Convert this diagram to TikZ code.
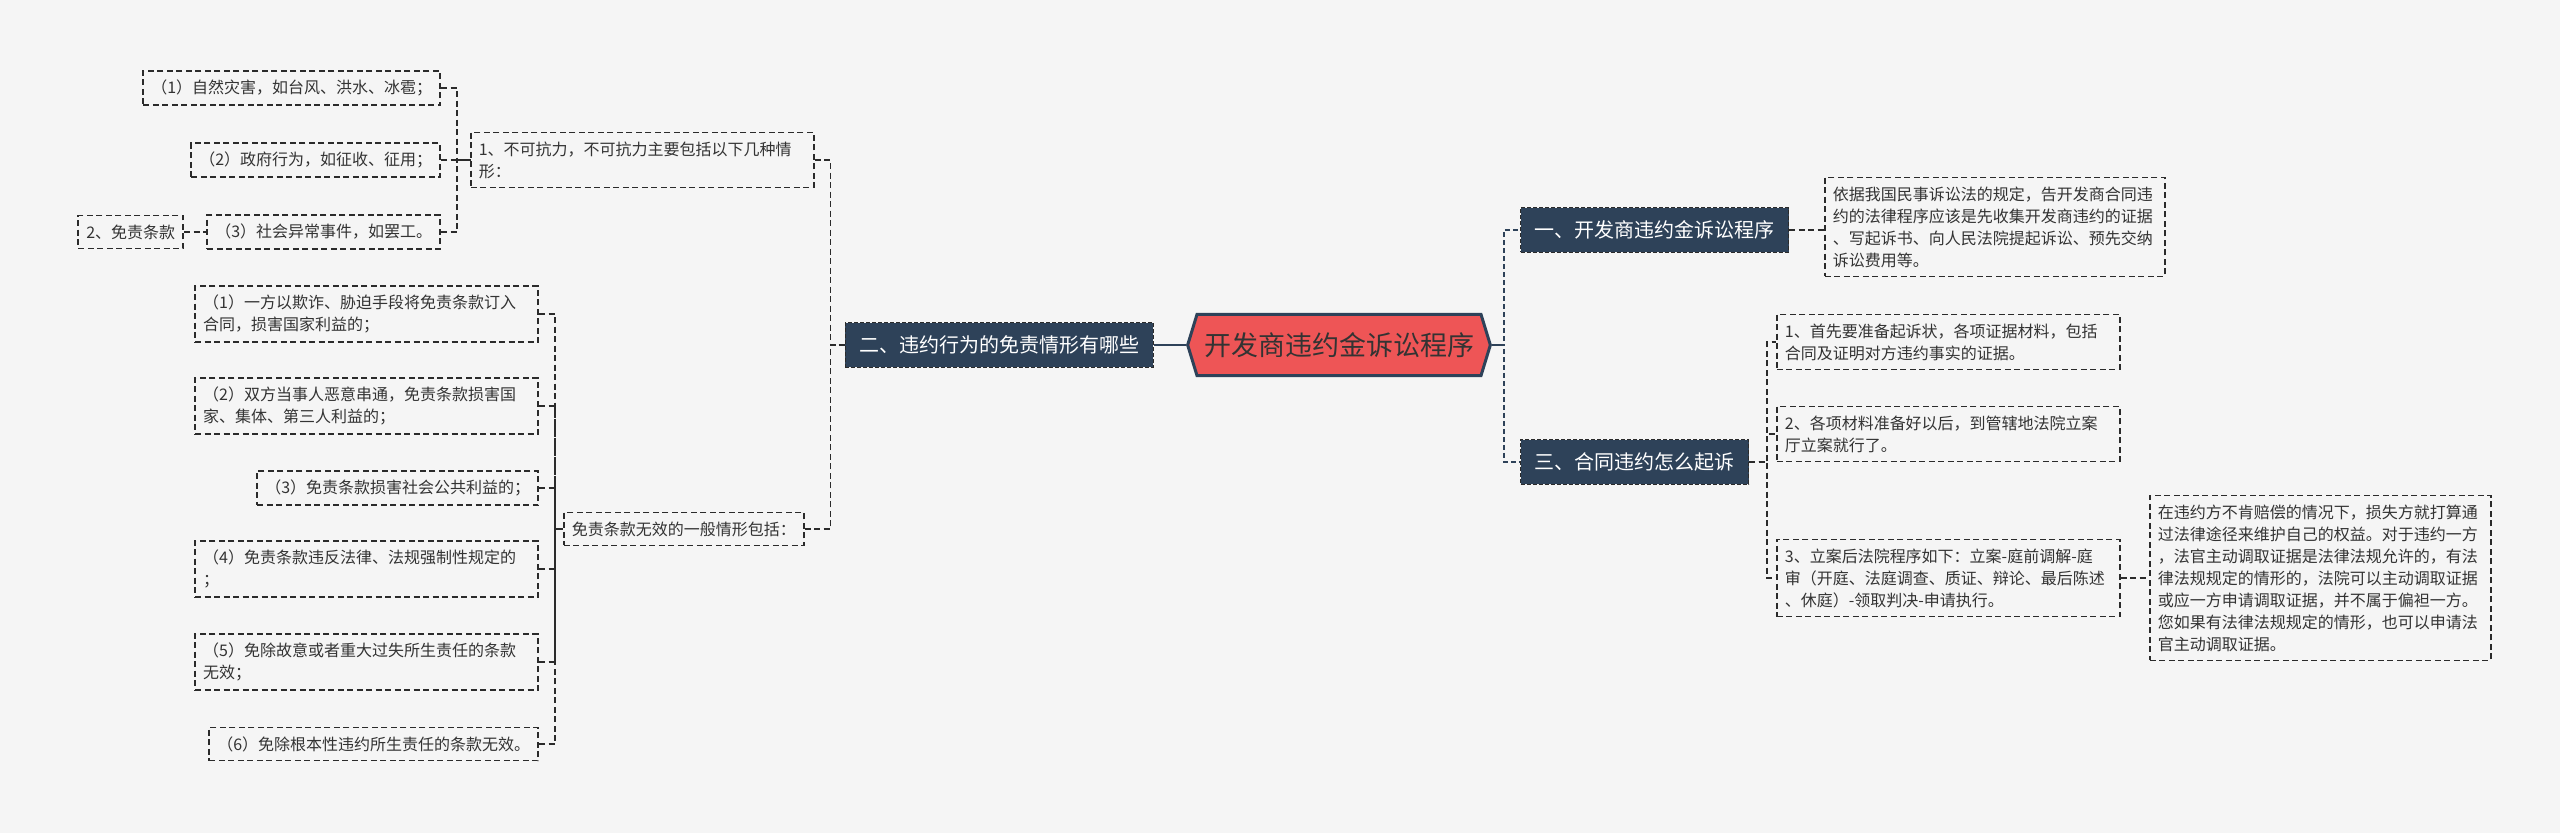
\documentclass[tikz,border=0pt]{standalone}
\usepackage{fontspec}
\setmainfont{Noto Sans CJK SC}
\usetikzlibrary{shapes.symbols}
\definecolor{bgc}{HTML}{F5F5F5}
\definecolor{linec}{HTML}{2B2B2B}
\definecolor{textc}{HTML}{333333}
\definecolor{catc}{HTML}{2E4259}
\definecolor{rootc}{HTML}{EE5556}

\begin{document}
\begin{tikzpicture}[x=1pt,y=-1pt,
  link/.style={draw=linec,line width=1.7pt,dash pattern=on 6pt off 3.5pt},
  mainlink/.style={draw=catc,line width=2.6pt,dash pattern=on 5pt off 3pt},
  leaf/.style={link,text=textc,font=\fontsize{16}{22}\selectfont,align=left,inner xsep=8pt,inner ysep=9pt},
  cat/.style={draw=linec,line width=1pt,dash pattern=on 4pt off 2pt,fill=catc,text=white,font=\fontsize{20}{24}\selectfont,inner xsep=14pt,inner ysep=13pt},
  rootnode/.style={signal,signal to=west and east,signal pointer angle=146,draw=catc,line width=3pt,fill=rootc,text=textc,font=\fontsize{27}{30}\selectfont,inner xsep=7pt,inner ysep=18pt}]
\fill[bgc] (0,0) rectangle (2560,833);

% centre and main branches
\node[rootnode] (root) at (1339,345) {开发商违约金诉讼程序};
\node[cat] (cat2) at (999,345) {二、违约行为的免责情形有哪些};
\node[cat,anchor=west] (cat1) at (1520,230) {一、开发商违约金诉讼程序};
\node[cat,anchor=west] (cat3) at (1520,462) {三、合同违约怎么起诉};

% left part
\node[leaf,text width=327pt,anchor=west] (buke) at (470,160) {1、不可抗力，不可抗力主要包括以下几种情\\形：};
\node[leaf,anchor=east] (zaihai) at (441,88) {（1）自然灾害，如台风、洪水、冰雹；};
\node[leaf,anchor=east] (zhengfu) at (441,160) {（2）政府行为，如征收、征用；};
\node[leaf,anchor=east] (bagong) at (441,232) {（3）社会异常事件，如罢工。};
\node[leaf,anchor=east] (tiaokuan) at (184,232) {2、免责条款};
\node[leaf,anchor=west] (wuxiao) at (563,529) {免责条款无效的一般情形包括：};
\node[leaf,text width=327pt,anchor=east] (wx1) at (539,314) {（1）一方以欺诈、胁迫手段将免责条款订入\\合同，损害国家利益的；};
\node[leaf,text width=327pt,anchor=east] (wx2) at (539,406) {（2）双方当事人恶意串通，免责条款损害国\\家、集体、第三人利益的；};
\node[leaf,anchor=east] (wx3) at (539,488) {（3）免责条款损害社会公共利益的；};
\node[leaf,text width=327pt,anchor=east] (wx4) at (539,569) {（4）免责条款违反法律、法规强制性规定的\\；};
\node[leaf,text width=327pt,anchor=east] (wx5) at (539,662) {（5）免除故意或者重大过失所生责任的条款\\无效；};
\node[leaf,anchor=east] (wx6) at (539,744) {（6）免除根本性违约所生责任的条款无效。};

% right part
\node[leaf,text width=324pt,anchor=west] (yiju) at (1824,227) {依据我国民事诉讼法的规定，告开发商合同违\\约的法律程序应该是先收集开发商违约的证据\\、写起诉书、向人民法院提起诉讼、预先交纳\\诉讼费用等。};
\node[leaf,text width=327pt,anchor=west] (step1) at (1776,342) {1、首先要准备起诉状，各项证据材料，包括\\合同及证明对方违约事实的证据。};
\node[leaf,text width=327pt,anchor=west] (step2) at (1776,434) {2、各项材料准备好以后，到管辖地法院立案\\厅立案就行了。};
\node[leaf,text width=327pt,anchor=west] (step3) at (1776,578) {3、立案后法院程序如下：立案-庭前调解-庭\\审（开庭、法庭调查、质证、辩论、最后陈述\\、休庭）-领取判决-申请执行。};
\node[leaf,text width=325pt,anchor=west] (zhengju) at (2149,578) {在违约方不肯赔偿的情况下，损失方就打算通\\过法律途径来维护自己的权益。对于违约一方\\，法官主动调取证据是法律法规允许的，有法\\律法规规定的情形的，法院可以主动调取证据\\或应一方申请调取证据，并不属于偏袒一方。\\您如果有法律法规规定的情形，也可以申请法\\官主动调取证据。};

% connectors
\draw[draw=catc,line width=2.6pt] (cat2.east) -- (root.west);
\draw[draw=catc,line width=2.6pt] (root.east) -- ++(13,0);
\draw[mainlink] (root.east) -| ([xshift=-16pt]cat1.west) -- (cat1.west);
\draw[mainlink] (root.east) -| ([xshift=-16pt]cat3.west) -- (cat3.west);
\draw[link] (cat1.east) -- (cat1.east -| yiju.west);
\draw[link] (cat3.east) -| ([xshift=-9pt]step1.west) -- (step1.west);
\draw[link] (cat3.east) -| ([xshift=-9pt]step2.west) -- (step2.west);
\draw[link] (cat3.east) -| ([xshift=-9pt]step3.west) -- (step3.west);
\draw[link] (step3.east) -- (zhengju.west);

\draw[link] (buke.east) -| ([xshift=-14pt]cat2.west) -- (cat2.west);
\draw[link] (wuxiao.east) -| ([xshift=-14pt]cat2.west) -- (cat2.west);
\draw[link] (zaihai.east) -| ([xshift=-13pt]buke.west) -- (buke.west);
\draw[link] (zhengfu.east) -| ([xshift=-13pt]buke.west) -- (buke.west);
\draw[link] (bagong.east) -| ([xshift=-13pt]buke.west) -- (buke.west);
\draw[link] (tiaokuan.east) -- (bagong.west);
\draw[link] (wx1.east) -| ([xshift=-8pt]wuxiao.west) -- (wuxiao.west);
\draw[link] (wx2.east) -| ([xshift=-8pt]wuxiao.west) -- (wuxiao.west);
\draw[link] (wx3.east) -| ([xshift=-8pt]wuxiao.west) -- (wuxiao.west);
\draw[link] (wx4.east) -| ([xshift=-8pt]wuxiao.west) -- (wuxiao.west);
\draw[link] (wx5.east) -| ([xshift=-8pt]wuxiao.west) -- (wuxiao.west);
\draw[link] (wx6.east) -| ([xshift=-8pt]wuxiao.west) -- (wuxiao.west);
\end{tikzpicture}
\end{document}
